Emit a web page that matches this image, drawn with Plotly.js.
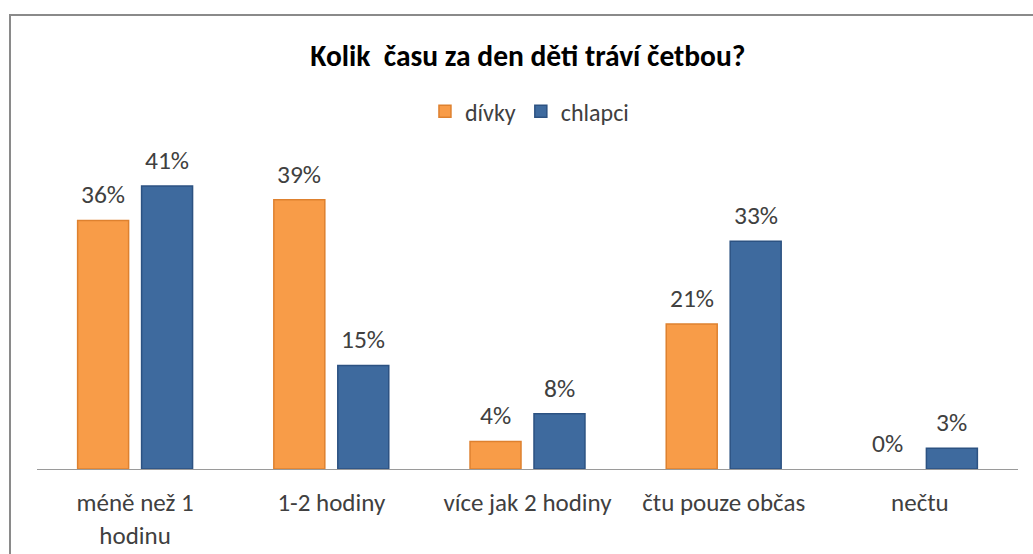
<!DOCTYPE html>
<html>
<head>
<meta charset="utf-8">
<script src="https://cdn.plot.ly/plotly-3.0.1.min.js"></script>
<style>
  html, body { margin: 0; padding: 0; background: #fff; }
  #wrap { position: relative; width: 1033px; height: 554px; overflow: hidden; }
  #chart { position: absolute; left: 0; top: 0; width: 1033px; height: 554px; }
  #frame { position: absolute; left: 9px; top: 14px; width: 1100px; height: 600px;
           border-left: 2px solid #8a8a8a; border-top: 2px solid #8a8a8a; pointer-events: none; }
</style>
</head>
<body>
<div id="wrap">
  <div id="chart"></div>
  <div id="frame"></div>
</div>
<script>
const categories = ["méně než 1<br>hodinu", "1-2 hodiny", "více jak 2 hodiny", "čtu pouze občas", "nečtu"];
const divky = [36, 39, 4, 21, 0];
const chlapci = [41, 15, 8, 33, 3];
const seriesNames = ["dívky", "chlapci"];

const font = "Carlito, Lato, sans-serif";
const labelColor = "#404040";

// no outline drawn for zero-height bars
function outlineWidths(vals) { return vals.map(v => (v === 0 ? 0 : 1.5)); }

const traces = [
  {
    type: "bar", name: seriesNames[0], x: categories, y: divky,
    marker: { color: "#F89C48", line: { color: "#DE812F", width: outlineWidths(divky) } },
    hoverinfo: "none"
  },
  {
    type: "bar", name: seriesNames[1], x: categories, y: chlapci,
    marker: { color: "#3E6A9E", line: { color: "#2C5282", width: outlineWidths(chlapci) } },
    hoverinfo: "none"
  }
];

// value labels, placed at each bar's value through the axes
const annotations = [];
[[divky, -32], [chlapci, 32]].forEach(([vals, dx]) => {
  vals.forEach((v, i) => {
    annotations.push({
      xref: "x", yref: "y", x: categories[i], y: v,
      text: v + "%", showarrow: false, xanchor: "center", yanchor: "bottom",
      xshift: dx, yshift: 8,
      font: { family: font, size: 25.5, color: labelColor }
    });
  });
});

const layout = {
  width: 1033, height: 554,
  margin: { l: 37, r: 15, t: 150, b: 85 },
  paper_bgcolor: "#ffffff", plot_bgcolor: "#ffffff",
  title: {
    text: "<b>Kolik  času za den děti tráví četbou?</b>",
    font: { family: font, size: 29.5, color: "#000000" },
    x: 0.511, xanchor: "center", y: 0.9, yanchor: "middle"
  },
  showlegend: true,
  legend: {
    orientation: "h", x: 0.502, xanchor: "center", y: 1.12, yanchor: "middle",
    font: { family: font, size: 24, color: labelColor },
    itemwidth: 30, tracegroupgap: 0
  },
  barmode: "group",
  bargap: 0.348,
  bargroupgap: 0.203,
  annotations: annotations,
  xaxis: {
    showline: true, linecolor: "#9a9a9a", linewidth: 1,
    ticks: "", tickfont: { family: font, size: 25, color: labelColor },
    ticklabelstandoff: 11,
    showgrid: false, zeroline: false, fixedrange: true
  },
  yaxis: {
    range: [0, 46.2], visible: false, showgrid: false, zeroline: false, fixedrange: true
  }
};

Plotly.newPlot("chart", traces, layout, { displayModeBar: false, staticPlot: true });
</script>
</body>
</html>
